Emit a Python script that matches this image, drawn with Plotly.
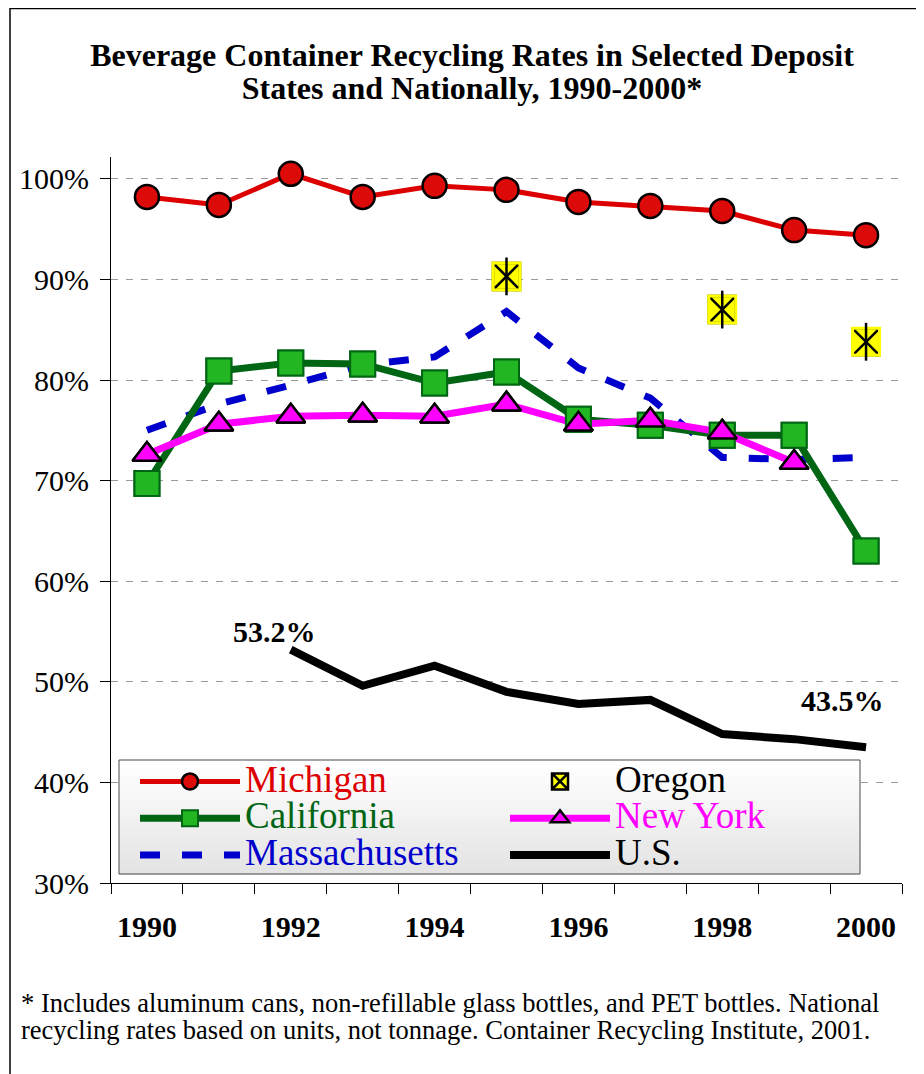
import plotly.graph_objects as go

# ---------------- data ----------------
years = ['1990', '1991', '1992', '1993', '1994', '1995', '1996', '1997', '1998', '1999', '2000']
year_labels = ['1990', '', '1992', '', '1994', '', '1996', '', '1998', '', '2000']
michigan = [98.2, 97.4, 100.5, 98.2, 99.3, 98.9, 97.7, 97.3, 96.8, 94.9, 94.4]
oregon = [None, None, None, None, None, 90.3, None, None, 87.0, None, 83.8]
california = [69.7, 80.9, 81.7, 81.6, 79.7, 80.8, 76.1, 75.5, 74.5, 74.5, 63.0]
new_york = [72.6, 75.6, 76.4, 76.5, 76.4, 77.6, 75.6, 76.0, 74.8, 71.8, None]
massachusetts = [75.0, 77.6, 79.5, 81.5, 82.3, 86.8, 81.2, 78.2, 72.3, 72.1, 72.3]
us = [None, None, 53.2, 49.6, 51.6, 49.0, 47.8, 48.2, 44.8, 44.3, 43.5]
y_ticks = [30, 40, 50, 60, 70, 80, 90, 100]
y_labels = [f'{v}%' for v in y_ticks]

# ---------------- layout geometry ----------------
# the page has an 8px body margin, so the figure is 8px smaller and every
# reference pixel position is shifted by 8px
OFF = 8
W, H = 924 - OFF, 1074 - OFF
ML, MR, MT, MB = 111 - OFF, 22, 157 - OFF, 191
PW, PH = W - ML - MR, H - MT - MB


def px_x(ref_px):
    return (ref_px - OFF - ML) / PW


def px_y(ref_py):
    return (H - MB - (ref_py - OFF)) / PH


FONT = 'Liberation Serif'
RED, RED_FILL = '#dd0000', '#dd0a0a'
GREEN_LINE, GREEN_FILL = '#006614', '#22b622'
BLUE = '#0000cc'
MAGENTA = '#ff00ff'


def lname(text, color):
    return f'<span style="font-size:37px;fill:{color}">{text}</span>'


fig = go.Figure()

# lines (drawn first)
fig.add_trace(go.Scatter(
    x=years, y=michigan, name=lname('Michigan', RED), mode='lines+markers',
    line=dict(color=RED, width=5),
    marker=dict(symbol='circle', size=24, color=RED_FILL, line=dict(color='black', width=2.5)),
    legendrank=1))
fig.add_trace(go.Scatter(
    x=years, y=massachusetts, name=lname('Massachusetts', BLUE), mode='lines',
    line=dict(color=BLUE, width=7, dash='20px,22px'),
    legendrank=5))
fig.add_trace(go.Scatter(
    x=years, y=california, name=lname('California', GREEN_LINE), mode='lines+markers',
    line=dict(color=GREEN_LINE, width=7),
    marker=dict(symbol='square', size=25, color=GREEN_FILL, line=dict(color=GREEN_LINE, width=2)),
    legendrank=3))
fig.add_trace(go.Scatter(
    x=years, y=new_york, name=lname('New York', MAGENTA), mode='lines+markers',
    line=dict(color=MAGENTA, width=7),
    marker=dict(symbol='triangle-up', size=25, color=MAGENTA, line=dict(color='black', width=2.5)),
    legendrank=4))
fig.add_trace(go.Scatter(
    x=years, y=us, name=lname('U.S.', 'black'), mode='lines',
    line=dict(color='black', width=8), legendrank=6))

# markers re-drawn on top of all lines (as in the original)
fig.add_trace(go.Scatter(
    x=years, y=california, mode='markers', showlegend=False, hoverinfo='skip',
    marker=dict(symbol='square', size=25, color=GREEN_FILL, line=dict(color=GREEN_LINE, width=2))))
fig.add_trace(go.Scatter(
    x=years, y=new_york, mode='markers', showlegend=False, hoverinfo='skip',
    marker=dict(symbol='triangle-up', size=25, color=MAGENTA, line=dict(color='black', width=2.5))))

# Oregon: yellow box with black star
fig.add_trace(go.Scatter(
    x=years, y=oregon, name=lname('Oregon', 'black'), mode='markers',
    marker=dict(symbol='square-x', size=27, color='#ffff00', line=dict(color='black', width=2.5)),
    legendrank=2))
fig.add_trace(go.Scatter(
    x=years, y=oregon, mode='markers', showlegend=False, hoverinfo='skip',
    marker=dict(symbol='square-open', size=27, color='#ffff00', line=dict(width=3))))
fig.add_trace(go.Scatter(
    x=years, y=oregon, mode='markers', showlegend=False, hoverinfo='skip',
    marker=dict(symbol='line-ns-open', size=27, color='black', line=dict(width=2.5))))

# U.S. end-point labels (category axis -> use category index)
first_i = next(i for i, v in enumerate(us) if v is not None)
last_i = len(us) - 1
label_font = dict(family=FONT, size=30, color='black', weight='bold')
annotations = [
    dict(x=first_i, y=us[first_i], xref='x', yref='y', text=f'{us[first_i]:.1f}%',
         showarrow=False, xshift=-16, yshift=18, font=label_font),
    dict(x=last_i, y=us[last_i], xref='x', yref='y', text=f'{us[last_i]:.1f}%',
         showarrow=False, xshift=-24, yshift=47, font=label_font),
    dict(xref='paper', yref='paper', x=px_x(19), y=px_y(986), xanchor='left', yanchor='top', align='left',
         showarrow=False, font=dict(family=FONT, size=20.8, color='black'),
         text='<span style="font-size:26.5px">* Includes aluminum cans, non-refillable glass bottles, and PET bottles. National</span>'
              '<br><span style="font-size:26.5px">recycling rates based on units, not tonnage. Container Recycling Institute, 2001.</span>'),
]

# outer frame
shapes = [
    dict(type='line', xref='paper', yref='paper', x0=px_x(10), x1=px_x(10), y0=px_y(OFF), y1=px_y(1074),
         line=dict(color='black', width=1.5)),
    dict(type='line', xref='paper', yref='paper', x0=px_x(10), x1=px_x(924), y0=px_y(OFF + 0.5), y1=px_y(OFF + 0.5),
         line=dict(color='black', width=1.5)),
]
# legend box with a soft vertical gradient (white -> light grey)
LX0, LX1, LY0, LY1 = 119, 860, 760, 874
n_strips = 14
for k in range(n_strips):
    g = int(round(255 - (255 - 228) * k / (n_strips - 1)))
    ya = LY0 + (LY1 - LY0) * k / n_strips
    yb = LY0 + (LY1 - LY0) * (k + 1) / n_strips
    shapes.append(dict(type='rect', xref='paper', yref='paper', layer='above',
                       x0=px_x(LX0), x1=px_x(LX1), y0=px_y(ya), y1=px_y(yb + 0.6),
                       fillcolor=f'rgb({g},{g},{g})', line=dict(width=0)))
shapes.append(dict(type='rect', xref='paper', yref='paper', layer='above',
                   x0=px_x(LX0), x1=px_x(LX1), y0=px_y(LY0), y1=px_y(LY1),
                   fillcolor='rgba(0,0,0,0)', line=dict(color='#4a4a4a', width=1)))

fig.update_layout(
    width=W, height=H,
    margin=dict(l=ML, r=MR, t=MT, b=MB, pad=0),
    paper_bgcolor='white', plot_bgcolor='white',
    font=dict(family=FONT, color='black'),
    title=dict(
        text='<span style="font-size:32px">Beverage Container Recycling Rates in Selected Deposit</span><br>'
             '<span style="font-size:32px">States and Nationally, 1990-2000*</span>',
        font=dict(family=FONT, size=25.4, color='black', weight='bold'),
        xref='container', yref='container', x=(472 - OFF) / W, xanchor='center',
        y=1 - (66 - OFF) / H, yanchor='top'),
    xaxis=dict(
        type='category', categoryorder='array', categoryarray=years, range=[-0.5, len(years) - 0.5],
        tickmode='array', tickvals=years, ticktext=year_labels, tickson='boundaries',
        ticks='outside', ticklen=10, tickcolor='black', tickwidth=1,
        showline=True, linecolor='black', linewidth=1, showgrid=False, zeroline=False,
        tickfont=dict(family=FONT, size=30, color='black', weight='bold'), ticklabelstandoff=17),
    yaxis=dict(
        range=[30, 30 + PH / 10.06], tickmode='array', tickvals=y_ticks, ticktext=y_labels,
        ticks='outside', ticklen=10, tickcolor='black', tickwidth=1,
        showline=True, linecolor='black', linewidth=1, zeroline=False,
        showgrid=True, gridcolor='#9a9a9a', gridwidth=1, griddash='7px,8px',
        tickfont=dict(family=FONT, size=30, color='black'), ticklabelstandoff=5),
    legend=dict(
        orientation='h', x=px_x(135), y=px_y(758), xanchor='left', yanchor='top',
        entrywidth=255, entrywidthmode='pixels', itemwidth=100,
        bgcolor='rgba(0,0,0,0)', borderwidth=0,
        font=dict(family=FONT, size=26, color='black'), traceorder='normal'),
    annotations=annotations,
    shapes=shapes,
    showlegend=True,
)

fig.write_html('out.html')
